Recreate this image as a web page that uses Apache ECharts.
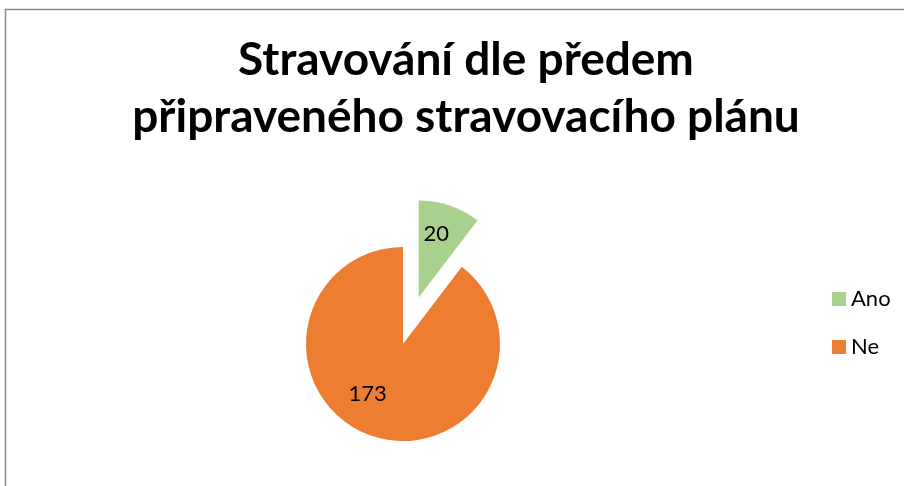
<!DOCTYPE html>
<html><head><meta charset="utf-8">
<script src="https://cdn.jsdelivr.net/npm/echarts@6/dist/echarts.min.js"></script>
<style>html,body{margin:0;padding:0;background:#fff}#c{width:904px;height:486px}</style>
</head><body><div id="c"></div>
<script>
const titleText = 'Stravování dle předem\npřipraveného stravovacího plánu';
const categories = ['Ano', 'Ne'];
const values = [20, 173];
const colors = ['#A9D18E', '#ED7D31'];
const labelOffsets = [[1, -15], [-19, 1]];

const chart = echarts.init(document.getElementById('c'), null, {renderer: 'canvas'});
chart.setOption({
  animation: false,
  graphic: [{
    type: 'rect', shape: {x: 5.5, y: 9.5, width: 1000, height: 1000},
    style: {fill: 'none', stroke: '#8c8c8c', lineWidth: 1.5}, silent: true
  }],
  title: {
    text: titleText, left: 461, top: 27, textAlign: 'center',
    textStyle: {fontFamily: 'Lato', fontWeight: 'bold', fontSize: 46, lineHeight: 57, color: '#000'}
  },
  legend: {
    orient: 'vertical', left: 827, top: 283, itemWidth: 14, itemHeight: 14, itemGap: 26,
    icon: 'rect', data: categories,
    textStyle: {fontFamily: 'Lato', fontSize: 22, color: '#000'}
  },
  series: [{
    type: 'pie', center: [403, 344], radius: 97, startAngle: 90, clockwise: true,
    selectedMode: 'single', selectedOffset: 49, avoidLabelOverlap: false,
    label: {show: true, position: 'inside', formatter: '{c}', fontFamily: 'Lato', fontSize: 22, color: '#000'},
    labelLine: {show: false},
    emphasis: {disabled: true},
    data: categories.map((n, i) => ({
      name: n, value: values[i], selected: i === 0,
      itemStyle: {color: colors[i]},
      label: {offset: labelOffsets[i]},
      select: {label: {offset: labelOffsets[i]}}
    }))
  }]
});
</script></body></html>
